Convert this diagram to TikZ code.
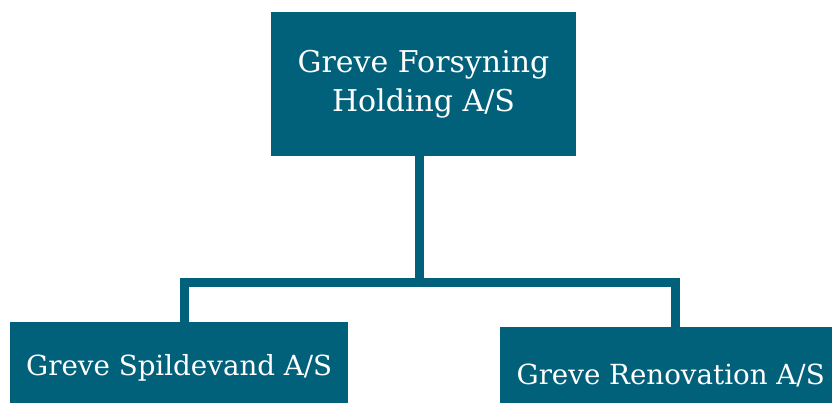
\documentclass[tikz,border=0pt]{standalone}
\usepackage{fontspec}
\setmainfont{DejaVu Serif}
\definecolor{teal}{HTML}{02617A}
\begin{document}
\begin{tikzpicture}[x=1pt,y=1pt,
  orgbox/.style={fill=teal,text=white,inner sep=0pt,align=center},
  subbox/.style={orgbox,font=\fontsize{27.7}{39}\selectfont,text height=20pt,text depth=0pt},
  link/.style={draw=teal,line width=9pt,line join=miter}]
\useasboundingbox (0,0) rectangle (832,-403);
\clip (0,0) rectangle (832,-403);
\node[orgbox,font=\fontsize{30}{39}\selectfont,minimum width=305,minimum height=143.5] (top) at (423.5,-84.2) {Greve Forsyning\\Holding A/S};
\node[subbox,minimum width=338,minimum height=86,anchor=north west] (sl) at (10,-322) {Greve Spildevand A/S};
\node[subbox,minimum width=341,minimum height=94,anchor=north west] (sr) at (500,-327) {Greve Renovation A/S};
\coordinate (j) at (419.5,-282);
\coordinate (bl) at (184.5,-282);
\coordinate (br) at (675,-282);
\draw[link] (top.south -| j) -- (j);
\draw[link] (sl.north -| bl) -- (bl) -- (br) -- (sr.north -| br);
\end{tikzpicture}
\end{document}
